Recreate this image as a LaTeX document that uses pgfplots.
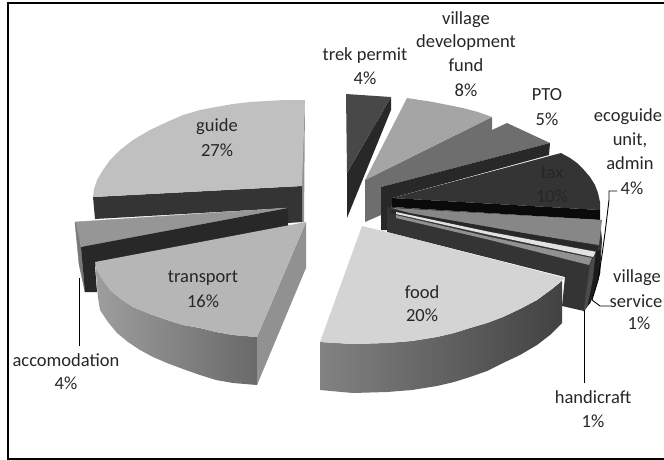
\documentclass[border=0pt]{standalone}
\usepackage{pgfplots}
\pgfplotsset{compat=1.18}
\usepackage{fontspec}
\setmainfont{Carlito}
\newcommand\poly[2]{\addplot[draw=none,fill=#1] coordinates {#2} -- cycle;}
\newcommand\strip[2]{\addplot[line width=0.4bp,draw={rgb,255:red,#1;green,#1;blue,#1},fill={rgb,255:red,#1;green,#1;blue,#1}] coordinates {#2} -- cycle;}
\newcommand\lbl[3]{\node[text=txt,font=\fontsize{18.5bp}{20bp}\selectfont,inner sep=0pt,anchor=center] at (axis cs:#1,#2) {#3};}
\definecolor{txt}{RGB}{38,38,38}
\definecolor{gA}{RGB}{10,10,10}
\definecolor{gB}{RGB}{40,40,40}
\definecolor{gC}{RGB}{52,52,52}
\definecolor{gD}{RGB}{72,72,72}
\definecolor{gE}{RGB}{110,110,110}
\definecolor{gF}{RGB}{135,135,135}
\definecolor{gG}{RGB}{145,145,145}
\definecolor{gH}{RGB}{165,165,165}
\definecolor{gI}{RGB}{182,182,182}
\definecolor{gJ}{RGB}{192,192,192}
\definecolor{gK}{RGB}{212,212,212}
\definecolor{gL}{RGB}{225,225,225}
\definecolor{tL}{RGB}{158,158,158}
\definecolor{tR}{RGB}{105,105,105}
\definecolor{fL}{RGB}{130,130,130}
\definecolor{fM}{RGB}{72,72,72}
\definecolor{fR}{RGB}{66,66,66}
\begin{document}
\begin{tikzpicture}
\path[use as bounding box] (0,0) rectangle (664bp,460bp);
\begin{axis}[hide axis,scale only axis,width=664bp,height=460bp,xmin=0,xmax=664,ymin=0,ymax=460,y dir=reverse,clip=false]
% frame
\addplot[black,line width=1.5bp] coordinates {(664,459) (8,459) (8,3) (664,3)};
% guide
\poly{gG}{(305,100) (304,222) (301,222) (301,186)}
\poly{gC}{(93,197) (302,186) (302,222) (288,223) (288,208) (95,219)}
\poly{gJ}{(93,197) (94,189) (97,180) (103,170) (110,160) (120,150) (133,140) (150,130) (167,122) (183,115) (200,110) (216,107) (233,104) (250,102) (267,101) (285,100) (305,100) (302,186)}
% accomodation
\strip{150}{(75,222) (287,208) (82,247) (78,235)}
\strip{120}{(75,222) (81,247) (85,292) (79,264)}
\poly{gB}{(81,247) (288,208) (288,228) (95,266) (97,292) (85,292)}
% transport side
\addplot[draw=none,left color=tL,right color=tR] coordinates {(95,262) (97,270) (103,280) (110,290) (121,299) (133,307) (150,314) (167,320) (183,325) (200,328) (216,332) (233,335) (257,337) (257,385) (233,383) (216,380) (200,375) (183,369) (167,363) (153,357) (140,350) (128,342) (117,333) (108,322) (100,310) (98,298)} -- cycle;
\poly{gG}{(306,222) (306,268) (257,385) (257,337)}
\poly{gI}{(306,222) (257,337) (233,335) (216,332) (200,328) (183,325) (167,320) (150,314) (133,307) (121,299) (110,290) (103,280) (97,270) (95,262)}
% trek permit
\poly{gB}{(391,97) (391,110) (347,218) (347,173)}
\poly{gD}{(346,94) (391,97) (347,173)}
% village development fund + side
\poly{gE}{(365,180) (492,117) (492,130) (507,123) (550,143) (381,187) (381,215) (365,222)}
\poly{gH}{(407,98) (420,100) (433,102) (448,105) (463,108) (478,112) (492,117) (365,180)}
% PTO
\poly{gB}{(550,143) (549,155) (392,198) (391,230) (381,230) (381,187)}
% tax
\poly{gC}{(561,153) (570,158) (577,163) (584,170) (590,177) (595,185) (598,193) (600,202) (600,210) (392,198)}
\poly{gA}{(392,198) (600,210) (600,220) (392,207)}
% ecoguide and small slices
\poly{gC}{(387,207) (392,207) (600,220) (602,240) (600,273) (595,290) (590,303) (584,311) (562,306) (565,277) (387,232)}
\poly{gF}{(392,208) (602,220) (599,245) (490,228) (420,216)}
\poly{gB}{(392,210) (598,246) (597,251) (390,213)}
\poly{gL}{(396,212) (490,232) (597,252) (593,257) (490,235) (396,214)}
\poly{gG}{(396,215) (490,237) (592,258) (589,265) (490,240) (396,218)}
\strip{75}{(590,265) (596,252) (593,280) (588,305) (584,311)}
\strip{28}{(596,252) (600,250) (600,273) (595,290) (590,303) (588,305) (593,280)}
% food side
\addplot[draw=none,left color=fL,middle color=fM,right color=fR] coordinates {(320,342) (353,344) (387,343) (412,341) (437,337) (454,333) (470,328) (487,323) (503,317) (520,309) (537,300) (552,289) (562,281) (562,323) (550,335) (537,345) (520,355) (503,363) (487,371) (470,377) (454,382) (437,386) (412,390) (387,392) (353,393) (320,390)} -- cycle;
\poly{gK}{(362,226) (387,232) (565,278) (552,289) (537,300) (520,309) (503,317) (487,323) (470,328) (454,333) (437,337) (412,341) (387,343) (353,344) (320,342)}
% leaders
\addplot[black,line width=0.9bp] coordinates {(617,191) (609,191) (609,200) (605,233) (602,255) (598,280) (592,300)};
\addplot[black,line width=0.9bp] coordinates {(592,300) (600,306) (610,306)};
\addplot[black,line width=0.9bp] coordinates {(584,310) (584,383)};
\addplot[black,line width=0.9bp] coordinates {(79,278) (79,346)};
% labels
\lbl{365}{56}{trek permit}
\lbl{365}{78}{4\%}
\lbl{466}{20}{village}
\lbl{466}{43}{development}
\lbl{466}{65}{fund}
\lbl{466}{90}{8\%}
\lbl{547}{95}{PTO}
\lbl{547}{119}{5\%}
\lbl{628}{117}{ecoguide}
\lbl{630}{140}{unit,}
\lbl{630}{163}{admin}
\lbl{632}{188}{4\%}
\lbl{552}{173}{tax}
\lbl{552}{196}{10\%}
\lbl{637}{278}{village}
\lbl{636}{301}{service}
\lbl{639}{323}{1\%}
\lbl{593}{397}{handicraft}
\lbl{593}{421}{1\%}
\lbl{422}{292}{food}
\lbl{422}{315}{20\%}
\lbl{217}{127}{guide}
\lbl{217}{150}{27\%}
\lbl{203}{278}{transport}
\lbl{203}{301}{16\%}
\lbl{66}{360}{accomodation}
\lbl{66}{383}{4\%}
\end{axis}
\end{tikzpicture}
\end{document}
